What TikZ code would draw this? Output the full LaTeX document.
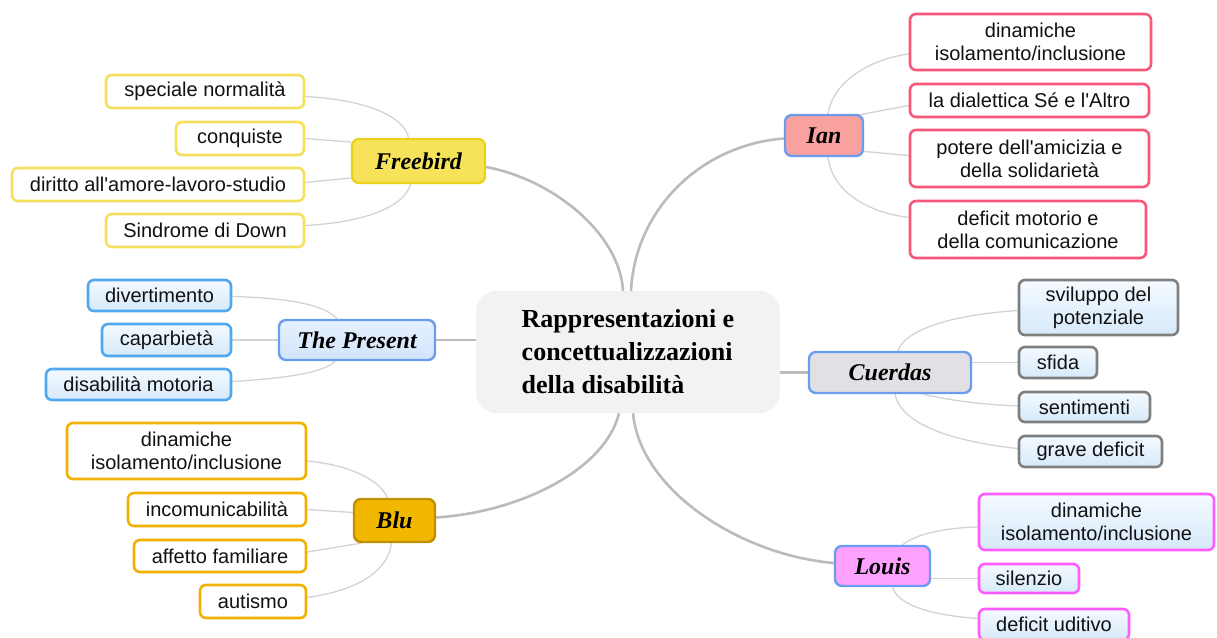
\documentclass[tikz,border=0pt]{standalone}
\usepackage{fontspec}
\setmainfont{Liberation Serif}
\newfontfamily\leaffont{Liberation Sans}
\usetikzlibrary{calc}
\pgfdeclarelayer{bg}
\pgfsetlayers{bg,main}
\definecolor{ctrfill}{HTML}{F2F2F2}
\definecolor{mainln}{HTML}{BBBBBB}
\definecolor{leafln}{HTML}{D3D3D3}
\definecolor{catdraw}{HTML}{6C9CEE}
\definecolor{fbfill}{HTML}{F6E35A}
\definecolor{fbdraw}{HTML}{EAD21C}
\definecolor{fbleaf}{HTML}{F4E05C}
\definecolor{prestop}{HTML}{E6F1FF}
\definecolor{presbot}{HTML}{D2E4FB}
\definecolor{presleaf}{HTML}{4FA8F0}
\definecolor{lftop}{HTML}{F4FAFF}
\definecolor{lfbot}{HTML}{D6E9FA}
\definecolor{blufill}{HTML}{F2B800}
\definecolor{bludraw}{HTML}{BF9000}
\definecolor{bluleaf}{HTML}{F2B100}
\definecolor{ianfill}{HTML}{F8A19F}
\definecolor{ianleaf}{HTML}{F7587A}
\definecolor{cuefill}{HTML}{E1E1E5}
\definecolor{cueleaf}{HTML}{7F7F7F}
\definecolor{loufill}{HTML}{FFA2FF}
\definecolor{louleaf}{HTML}{FF5CFF}
\definecolor{txt}{HTML}{111111}
\begin{document}
\begin{tikzpicture}[x=1pt,y=-1pt,
  leafbox/.style={rounded corners=6pt, line width=2.6pt, align=center, inner sep=0pt,
    font=\leaffont\fontsize{20}{23}\selectfont, text=txt},
  catbox/.style={rounded corners=7pt, line width=2.4pt, align=center, inner sep=0pt,
    font=\fontsize{24}{28}\selectfont\bfseries\itshape, text=black},
  ctrbox/.style={fill=ctrfill, rounded corners=20pt, align=left, inner sep=0pt,
    font=\fontsize{26}{33}\selectfont\bfseries, text=black},
  yleaf/.style={leafbox, draw=fbleaf, fill=white},
  pleaf/.style={leafbox, draw=presleaf, top color=lftop, bottom color=lfbot},
  bleaf/.style={leafbox, draw=bluleaf, fill=white},
  ileaf/.style={leafbox, draw=ianleaf, fill=white},
  cleaf/.style={leafbox, draw=cueleaf, top color=lftop, bottom color=lfbot},
  lleaf/.style={leafbox, draw=louleaf, top color=lftop, bottom color=lfbot},
  mainline/.style={draw=mainln, line width=2.6pt},
  leafline/.style={draw=leafln, line width=1.3pt}
]
\useasboundingbox (0,0) rectangle (1217,637);

% centre
\node[ctrbox, minimum width=304, minimum height=122] (ctr) at (628,352)
  {Rappresentazioni e\\concettualizzazioni\\della disabilità};

% Freebird
\node[catbox, draw=fbdraw, fill=fbfill, minimum width=133, minimum height=44] (fb) at (418.5,161) {Freebird};
\node[yleaf, minimum width=198, minimum height=33] (fl1) at (205,91.5) {speciale normalità};
\node[yleaf, minimum width=128, minimum height=33] (fl2) at (240,138.5) {conquiste};
\node[yleaf, minimum width=292, minimum height=33] (fl3) at (158,184.5) {diritto all'amore-lavoro-studio};
\node[yleaf, minimum width=198, minimum height=33] (fl4) at (205,230.5) {Sindrome di Down};

% The Present
\node[catbox, draw=catdraw, top color=prestop, bottom color=presbot, minimum width=156, minimum height=40] (pres) at (357,340) {The Present};
\node[pleaf, minimum width=143, minimum height=31] (pl1) at (159.5,295.5) {divertimento};
\node[pleaf, minimum width=129, minimum height=32] (pl2) at (166.5,340) {caparbietà};
\node[pleaf, minimum width=185, minimum height=31] (pl3) at (138.5,384.5) {disabilità motoria};

% Blu
\node[catbox, draw=bludraw, fill=blufill, minimum width=81, minimum height=43] (blu) at (394.5,520.5) {Blu};
\node[bleaf, minimum width=239, minimum height=56] (bl1) at (186.5,451) {dinamiche\\isolamento/inclusione};
\node[bleaf, minimum width=178, minimum height=33] (bl2) at (217,509.5) {incomunicabilità};
\node[bleaf, minimum width=172, minimum height=32] (bl3) at (220,556) {affetto familiare};
\node[bleaf, minimum width=106, minimum height=33] (bl4) at (253,601.5) {autismo};

% Ian
\node[catbox, draw=catdraw, fill=ianfill, minimum width=78, minimum height=41] (ian) at (824,135.5) {Ian};
\node[ileaf, minimum width=241, minimum height=56] (il1) at (1030.5,42) {dinamiche\\isolamento/inclusione};
\node[ileaf, minimum width=239, minimum height=33] (il2) at (1029.5,100.5) {la dialettica Sé e l'Altro};
\node[ileaf, minimum width=239, minimum height=57] (il3) at (1029.5,158.5) {potere dell'amicizia e\\della solidarietà};
\node[ileaf, minimum width=236, minimum height=57] (il4) at (1028,229.5) {deficit motorio e\\della comunicazione};

% Cuerdas
\node[catbox, draw=catdraw, fill=cuefill, minimum width=162, minimum height=41] (cue) at (890,372.5) {Cuerdas};
\node[cleaf, minimum width=159, minimum height=55] (cl1) at (1098.5,307.5) {sviluppo del\\potenziale};
\node[cleaf, minimum width=78, minimum height=31] (cl2) at (1058,362.5) {sfida};
\node[cleaf, minimum width=131, minimum height=30] (cl3) at (1084.5,407) {sentimenti};
\node[cleaf, minimum width=143, minimum height=31] (cl4) at (1090.5,451.5) {grave deficit};

% Louis
\node[catbox, draw=catdraw, fill=loufill, minimum width=95, minimum height=40] (lou) at (882.5,566) {Louis};
\node[lleaf, minimum width=235, minimum height=56] (ll1) at (1096.5,522) {dinamiche\\isolamento/inclusione};
\node[lleaf, minimum width=100, minimum height=29] (ll2) at (1029,578.5) {silenzio};
\node[lleaf, minimum width=150, minimum height=31] (ll3) at (1054,624.5) {deficit uditivo};

\begin{pgfonlayer}{bg}
% main branches
\draw[mainline] ($(fb.east)+(0,6)$) .. controls (555,180) and (620,235) .. ($(ctr.north)+(-5,0)$);
\draw[mainline] ($(ian.west)+(0,3)$) .. controls (700,145) and (635,210) .. ($(ctr.north)+(3,0)$);
\draw[mainline] (pres.east) -- (pres.east -| ctr.west);
\draw[mainline] (cue.west) -- (cue.west -| ctr.east);
\draw[mainline] ($(blu.east)+(0,-3)$) .. controls (520,512) and (605,470) .. ($(ctr.south)+(-9,0)$);
\draw[mainline] ($(ctr.south)+(5,0)$) .. controls (640,490) and (740,555) .. ($(lou.west)+(0,-3)$);
% Freebird leaves
\draw[leafline] ($(fl1.east)+(0,5)$) .. controls (370,100) and (405,118) .. ($(fb.north)+(-10,0)$);
\draw[leafline] (fl2.east) -- ($(fb.west)+(0,-19)$);
\draw[leafline] ($(fl3.east)+(0,-2)$) -- ($(fb.west)+(0,17)$);
\draw[leafline] ($(fl4.east)+(0,-5)$) .. controls (370,222) and (405,205) .. ($(fb.south)+(-8,0)$);
% Present leaves
\draw[leafline] ($(pl1.east)+(0,1)$) .. controls (290,298) and (325,305) .. ($(pres.north)+(-20,0)$);
\draw[leafline] (pl2.east) -- (pres.west);
\draw[leafline] ($(pl3.east)+(0,-3)$) .. controls (290,378) and (325,372) .. ($(pres.south)+(-22,0)$);
% Blu leaves
\draw[leafline] ($(bl1.east)+(0,10)$) .. controls (350,465) and (380,480) .. ($(blu.north)+(-7,0)$);
\draw[leafline] (bl2.east) -- ($(blu.west)+(0,-8)$);
\draw[leafline] ($(bl3.east)+(0,-4)$) -- ($(blu.south west)+(8,0)$);
\draw[leafline] ($(bl4.east)+(0,-4)$) .. controls (360,590) and (388,570) .. ($(blu.south)+(-3,0)$);
% Ian leaves
\draw[leafline] ($(il1.west)+(0,12)$) .. controls (865,60) and (832,85) .. ($(ian.north)+(4,0)$);
\draw[leafline] ($(il2.west)+(0,5)$) -- ($(ian.north east)+(-5,1)$);
\draw[leafline] ($(il3.west)+(0,-3)$) -- ($(ian.east)+(0,16)$);
\draw[leafline] ($(il4.west)+(0,-12)$) .. controls (865,212) and (832,190) .. ($(ian.south)+(4,0)$);
% Cuerdas leaves
\draw[leafline] ($(cl1.west)+(0,3)$) .. controls (950,315) and (905,330) .. ($(cue.north)+(8,0)$);
\draw[leafline] (cl2.west) -- (cl2.west -| cue.east);
\draw[leafline] ($(cl3.west)+(0,-1)$) .. controls (970,404) and (940,398) .. ($(cue.south)+(33,0)$);
\draw[leafline] ($(cl4.west)+(0,-3)$) .. controls (940,440) and (900,420) .. ($(cue.south)+(5,0)$);
% Louis leaves
\draw[leafline] ($(ll1.west)+(0,5)$) .. controls (940,528) and (915,535) .. ($(lou.north)+(20,0)$);
\draw[leafline] (ll2.west) -- (ll2.west -| lou.east);
\draw[leafline] ($(ll3.west)+(0,-6)$) .. controls (930,615) and (898,605) .. ($(lou.south)+(10,0)$);
\end{pgfonlayer}
\end{tikzpicture}
\end{document}
